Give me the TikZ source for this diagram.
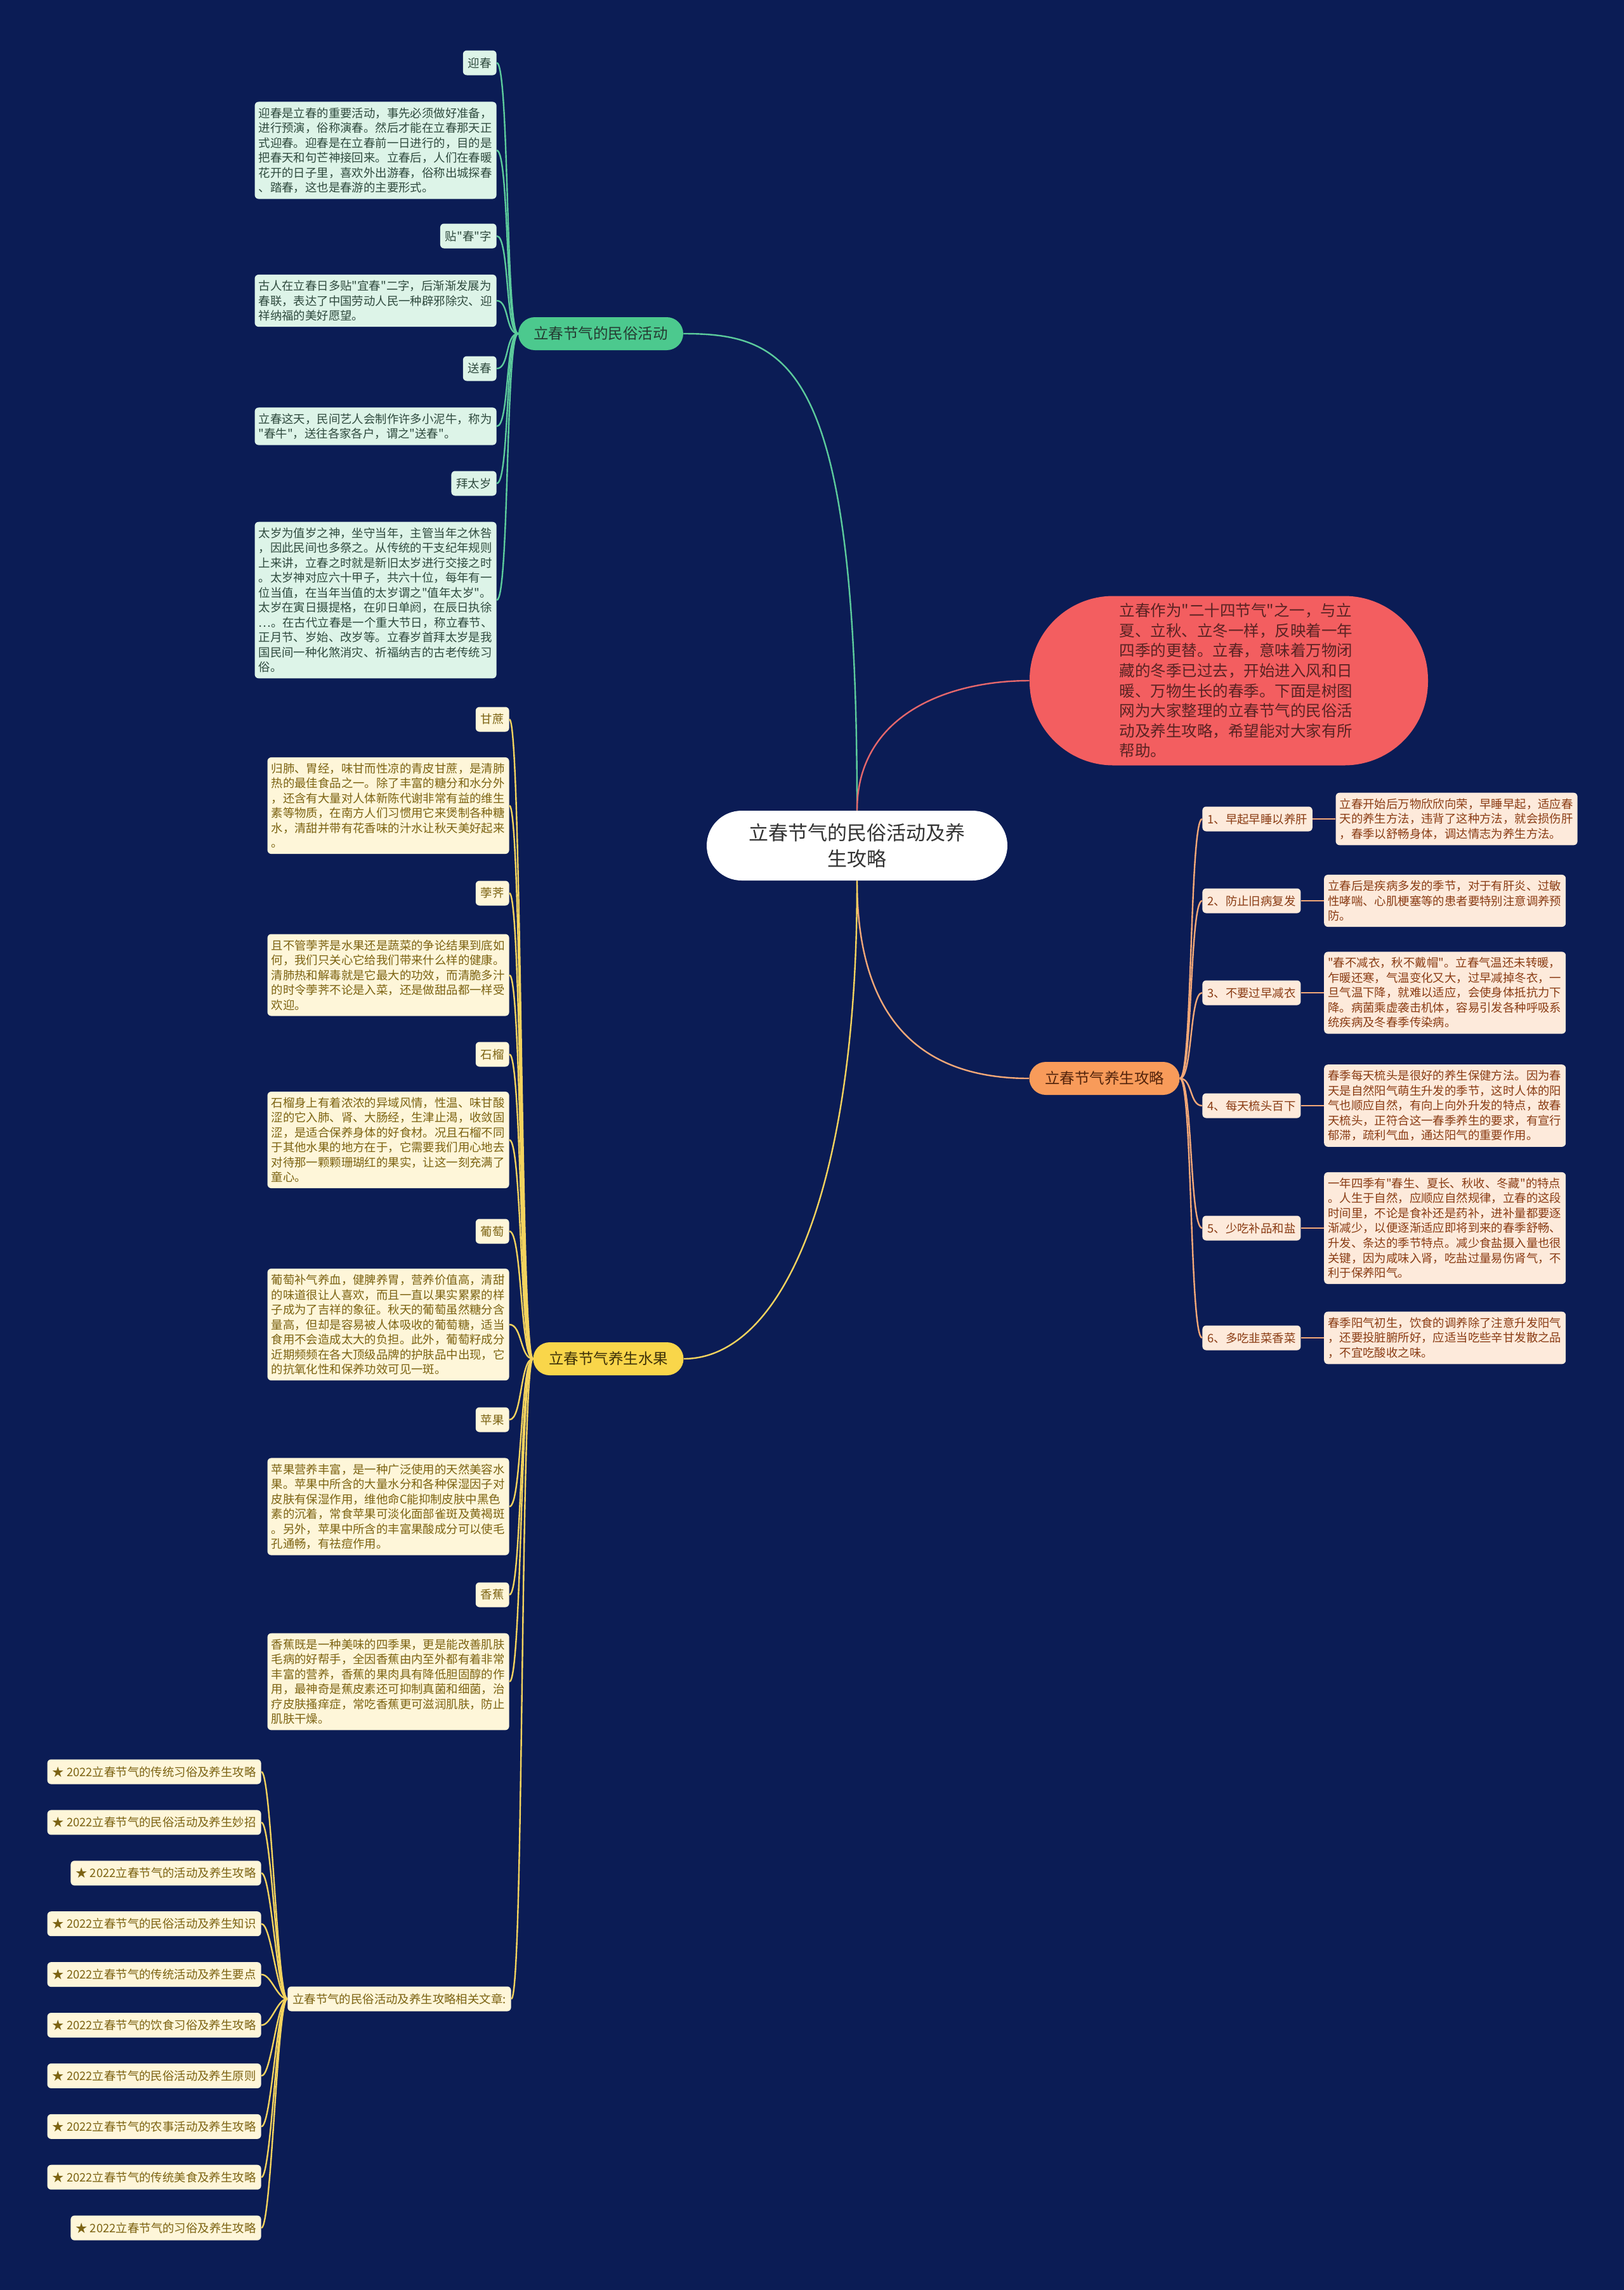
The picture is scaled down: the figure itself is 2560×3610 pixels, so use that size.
\documentclass[tikz,border=0pt]{standalone}
\usepackage{fontspec}
\setmainfont{Noto Sans CJK SC}[Ligatures=TeXOff]
\usetikzlibrary{positioning}
\definecolor{bg}{HTML}{0B1C55}
\definecolor{gmain}{HTML}{4CC98E}
\definecolor{gpale}{HTML}{DDF4E8}
\definecolor{gink}{HTML}{2F4A3E}
\definecolor{gstroke}{HTML}{5CCB9C}
\definecolor{rmain}{HTML}{F35E60}
\definecolor{rink}{HTML}{5A2323}
\definecolor{rstroke}{HTML}{E5676C}
\definecolor{omain}{HTML}{F89B5A}
\definecolor{opale}{HTML}{FDEADB}
\definecolor{oink}{HTML}{8A3C14}
\definecolor{ostroke}{HTML}{F3A878}
\definecolor{ymain}{HTML}{F9D64A}
\definecolor{ypale}{HTML}{FEF6D9}
\definecolor{yink}{HTML}{7C6312}
\definecolor{ystroke}{HTML}{F3D35E}
\definecolor{cink}{HTML}{333333}
\begin{document}
\begin{tikzpicture}[x=0.5pt, y=-0.5pt,
    box/.style={rectangle, rounded corners=3pt, inner xsep=4pt, inner ysep=4.5pt, font=\fontsize{9.2}{11.75}\selectfont},
    tag/.style={box, minimum height=19.5pt},
    para/.style={box, inner xsep=3pt, text width=184.5pt, align=left},
    topic/.style={rectangle, rounded corners=13pt, minimum height=26pt, font=\fontsize{11.75}{14}\selectfont},
    gbox/.style={fill=gpale, text=gink},
    obox/.style={fill=opale, text=oink},
    ybox/.style={fill=ypale, text=yink},
    gline/.style={draw=gstroke, line width=1.2pt},
    oline/.style={draw=ostroke, line width=1.2pt},
    yline/.style={draw=ystroke, line width=1.2pt},
    rline/.style={draw=rstroke, line width=1.2pt}]
    \useasboundingbox (0,0) rectangle (2560,3610);
    \fill[bg] (0,0) rectangle (2560,3610);

    \node[rectangle, rounded corners=27.5pt, minimum width=237pt, minimum height=55pt, fill=white, text=cink, align=center, font=\fontsize{15.5}{20.5}\selectfont] (ctr) at (1351,1333) {立春节气的民俗活动及养\\生攻略};
    \node[rectangle, rounded corners=66pt, minimum width=314pt, minimum height=133.5pt, fill=rmain, text=rink, text width=172.5pt, align=left, font=\fontsize{12.25}{15.8}\selectfont] (intro) at (1937,1073) {立春作为"二十四节气"之一，与立\\夏、立秋、立冬一样，反映着一年\\四季的更替。立春，意味着万物闭\\藏的冬季已过去，开始进入风和日\\暖、万物生长的春季。下面是树图\\网为大家整理的立春节气的民俗活\\动及养生攻略，希望能对大家有所\\帮助。};
    \node[topic, minimum width=130pt, fill=gmain, text=gink!80!black] (folk) at (947,526) {立春节气的民俗活动};
    \node[topic, minimum width=118.5pt, fill=omain, text=oink!60!black] (care) at (1741,1700) {立春节气养生攻略};
    \node[topic, minimum width=118.5pt, fill=ymain, text=yink!50!black] (fruit) at (959,2142) {立春节气养生水果};

    \draw[gline] (ctr.north) .. controls +(0,-700) and +(170,0) .. (folk.east);
    \draw[rline] (ctr.north) .. controls +(0,-150) and +(-130,0) .. (intro.west);
    \draw[oline] (ctr.south) .. controls +(0,230) and +(-160,0) .. (care.west);
    \draw[yline] (ctr.south) .. controls +(0,500) and +(150,0) .. (fruit.east);

    \node[tag, gbox, anchor=east] (folk1) at (783,99) {迎春};
    \node[para, gbox, anchor=east] (folk2) at (783,237) {迎春是立春的重要活动，事先必须做好准备，\\进行预演，俗称演春。然后才能在立春那天正\\式迎春。迎春是在立春前一日进行的，目的是\\把春天和句芒神接回来。立春后，人们在春暖\\花开的日子里，喜欢外出游春，俗称出城探春\\、踏春，这也是春游的主要形式。};
    \node[tag, gbox, anchor=east] (folk3) at (783,372) {贴"春"字};
    \node[para, gbox, anchor=east] (folk4) at (783,474) {古人在立春日多贴"宜春"二字，后渐渐发展为\\春联，表达了中国劳动人民一种辟邪除灾、迎\\祥纳福的美好愿望。};
    \node[tag, gbox, anchor=east] (folk5) at (783,581) {送春};
    \node[para, gbox, anchor=east] (folk6) at (783,672) {立春这天，民间艺人会制作许多小泥牛，称为\\"春牛"，送往各家各户，谓之"送春"。};
    \node[tag, gbox, anchor=east] (folk7) at (783,762) {拜太岁};
    \node[para, gbox, anchor=east] (folk8) at (783,946) {太岁为值岁之神，坐守当年，主管当年之休咎\\，因此民间也多祭之。从传统的干支纪年规则\\上来讲，立春之时就是新旧太岁进行交接之时\\。太岁神对应六十甲子，共六十位，每年有一\\位当值，在当年当值的太岁谓之"值年太岁"。\\太岁在寅日摄提格，在卯日单阏，在辰日执徐\\…。在古代立春是一个重大节日，称立春节、\\正月节、岁始、改岁等。立春岁首拜太岁是我\\国民间一种化煞消灾、祈福纳吉的古老传统习\\俗。};
    \foreach \i in {1,...,8}
        \draw[gline] (folk.west) .. controls +(-20,0) and +(20,0) .. (folk\i.east);

    \node[tag, obox, anchor=west] (care1) at (1895,1291) {1、早起早睡以养肝};
    \node[tag, obox, anchor=west] (care2) at (1895,1420) {2、防止旧病复发};
    \node[tag, obox, anchor=west] (care3) at (1895,1565) {3、不要过早减衣};
    \node[tag, obox, anchor=west] (care4) at (1895,1743) {4、每天梳头百下};
    \node[tag, obox, anchor=west] (care5) at (1895,1936) {5、少吃补品和盐};
    \node[tag, obox, anchor=west] (care6) at (1895,2109) {6、多吃韭菜香菜};
    \node[para, obox, right=18pt of care1] (tip1) {立春开始后万物欣欣向荣，早睡早起，适应春\\天的养生方法，违背了这种方法，就会损伤肝\\，春季以舒畅身体，调达情志为养生方法。};
    \node[para, obox, right=18pt of care2] (tip2) {立春后是疾病多发的季节，对于有肝炎、过敏\\性哮喘、心肌梗塞等的患者要特别注意调养预\\防。};
    \node[para, obox, right=18pt of care3] (tip3) {"春不减衣，秋不戴帽"。立春气温还未转暖，\\乍暖还寒，气温变化又大，过早减掉冬衣，一\\旦气温下降，就难以适应，会使身体抵抗力下\\降。病菌乘虚袭击机体，容易引发各种呼吸系\\统疾病及冬春季传染病。};
    \node[para, obox, right=18pt of care4] (tip4) {春季每天梳头是很好的养生保健方法。因为春\\天是自然阳气萌生升发的季节，这时人体的阳\\气也顺应自然，有向上向外升发的特点，故春\\天梳头，正符合这一春季养生的要求，有宣行\\郁滞，疏利气血，通达阳气的重要作用。};
    \node[para, obox, right=18pt of care5] (tip5) {一年四季有"春生、夏长、秋收、冬藏"的特点\\。人生于自然，应顺应自然规律，立春的这段\\时间里，不论是食补还是药补，进补量都要逐\\渐减少，以便逐渐适应即将到来的春季舒畅、\\升发、条达的季节特点。减少食盐摄入量也很\\关键，因为咸味入肾，吃盐过量易伤肾气，不\\利于保养阳气。};
    \node[para, obox, right=18pt of care6] (tip6) {春季阳气初生，饮食的调养除了注意升发阳气\\，还要投脏腑所好，应适当吃些辛甘发散之品\\，不宜吃酸收之味。};
    \foreach \i in {1,...,6} {
        \draw[oline] (care.east) .. controls +(20,0) and +(-20,0) .. (care\i.west);
        \draw[oline] (care\i.east) -- (care\i.east -| tip\i.west);
    }

    \node[tag, ybox, anchor=east] (fruit1) at (803,1134) {甘蔗};
    \node[para, ybox, anchor=east] (fruit2) at (803,1270) {归肺、胃经，味甘而性凉的青皮甘蔗，是清肺\\热的最佳食品之一。除了丰富的糖分和水分外\\，还含有大量对人体新陈代谢非常有益的维生\\素等物质，在南方人们习惯用它来煲制各种糖\\水，清甜并带有花香味的汁水让秋天美好起来\\。};
    \node[tag, ybox, anchor=east] (fruit3) at (803,1408) {荸荠};
    \node[para, ybox, anchor=east] (fruit4) at (803,1537) {且不管荸荠是水果还是蔬菜的争论结果到底如\\何，我们只关心它给我们带来什么样的健康。\\清肺热和解毒就是它最大的功效，而清脆多汁\\的时令荸荠不论是入菜，还是做甜品都一样受\\欢迎。};
    \node[tag, ybox, anchor=east] (fruit5) at (803,1662) {石榴};
    \node[para, ybox, anchor=east] (fruit6) at (803,1797) {石榴身上有着浓浓的异域风情，性温、味甘酸\\涩的它入肺、肾、大肠经，生津止渴，收敛固\\涩，是适合保养身体的好食材。况且石榴不同\\于其他水果的地方在于，它需要我们用心地去\\对待那一颗颗珊瑚红的果实，让这一刻充满了\\童心。};
    \node[tag, ybox, anchor=east] (fruit7) at (803,1941) {葡萄};
    \node[para, ybox, anchor=east] (fruit8) at (803,2088) {葡萄补气养血，健脾养胃，营养价值高，清甜\\的味道很让人喜欢，而且一直以果实累累的样\\子成为了吉祥的象征。秋天的葡萄虽然糖分含\\量高，但却是容易被人体吸收的葡萄糖，适当\\食用不会造成太大的负担。此外，葡萄籽成分\\近期频频在各大顶级品牌的护肤品中出现，它\\的抗氧化性和保养功效可见一斑。};
    \node[tag, ybox, anchor=east] (fruit9) at (803,2238) {苹果};
    \node[para, ybox, anchor=east] (fruit10) at (803,2375) {苹果营养丰富，是一种广泛使用的天然美容水\\果。苹果中所含的大量水分和各种保湿因子对\\皮肤有保湿作用，维他命C能抑制皮肤中黑色\\素的沉着，常食苹果可淡化面部雀斑及黄褐斑\\。另外，苹果中所含的丰富果酸成分可以使毛\\孔通畅，有祛痘作用。};
    \node[tag, ybox, anchor=east] (fruit11) at (803,2514) {香蕉};
    \node[para, ybox, anchor=east] (fruit12) at (803,2651) {香蕉既是一种美味的四季果，更是能改善肌肤\\毛病的好帮手，全因香蕉由内至外都有着非常\\丰富的营养，香蕉的果肉具有降低胆固醇的作\\用，最神奇是蕉皮素还可抑制真菌和细菌，治\\疗皮肤搔痒症，常吃香蕉更可滋润肌肤，防止\\肌肤干燥。};
    \node[tag, ybox, anchor=east] (links) at (806,3151) {立春节气的民俗活动及养生攻略相关文章:};
    \foreach \i in {1,...,12}
        \draw[yline] (fruit.west) .. controls +(-20,0) and +(20,0) .. (fruit\i.east);
    \draw[yline] (fruit.west) .. controls +(-20,0) and +(20,0) .. (links.east);

    \foreach \t [count=\i] in {传统习俗及养生攻略, 民俗活动及养生妙招, 活动及养生攻略, 民俗活动及养生知识, 传统活动及养生要点, 饮食习俗及养生攻略, 民俗活动及养生原则, 农事活动及养生攻略, 传统美食及养生攻略, 习俗及养生攻略} {
        \node[tag, ybox, anchor=east] (link\i) at (412,{2793+79.9*(\i-1)}) {★ 2022立春节气的\t};
        \draw[yline] (links.west) .. controls +(-16,0) and +(16,0) .. (link\i.east);
    }
\end{tikzpicture}
\end{document}
